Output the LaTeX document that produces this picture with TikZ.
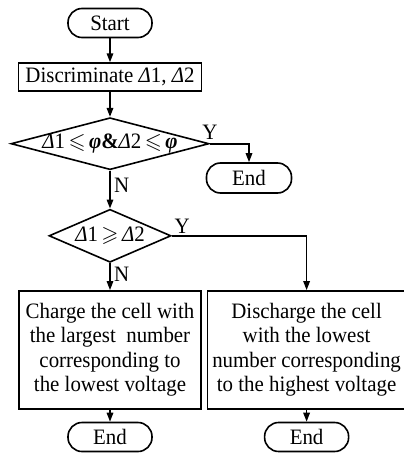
\documentclass[tikz,border=0pt]{standalone}
\usepackage{amssymb}
\usepackage{fontspec}
\setmainfont{Liberation Serif}[FakeStretch=0.95]
\usepackage{tikz}
\usetikzlibrary{arrows.meta,positioning,shapes.geometric}

\newcommand{\dl}{{\itshape Δ}}
\newcommand{\ph}{{\bfseries\itshape φ}}

\begin{document}
\begin{tikzpicture}[x=1pt, y=1pt,
  font=\fontsize{22}{24.5}\selectfont,
  line width=1.6pt,
  term/.style={draw, rounded corners=14pt, minimum width=84pt, minimum height=29pt, inner sep=0pt},
  box/.style={draw, minimum width=183pt, minimum height=28pt, inner sep=0pt, align=center},
  cond/.style={draw, diamond, inner sep=0pt},
  arr/.style={-{Triangle[length=9pt, width=6.5pt]}}]
\useasboundingbox (0,0) rectangle (404,-455);
\node[term] (start) at (110,-23) {Start};
\node[box, below=24pt of start] (disc) {Discriminate \dl1, \dl2};
\node[cond, minimum width=198pt, minimum height=52pt, below=25pt of disc,
  label={center:\dl1$\,\leqslant\,$\ph\textbf{\&}\dl2$\,\leqslant\,$\ph}] (d1) {};
\node[term, minimum width=85pt, minimum height=30pt] (end1) at (249,-178) {End};
\node[cond, minimum width=122pt, minimum height=53pt, below=38pt of d1,
  label={center:\dl1$\,\geqslant\,$\dl2}] (d2) {};
\node[box, minimum width=182pt, minimum height=118pt, below=27pt of d2] (chg)
  {Charge the cell with\\the largest\ \ number\\corresponding to\\the lowest voltage};
\node[box, minimum width=198pt, minimum height=118pt, right=5pt of chg] (dis)
  {Discharge the cell\\with the lowest\\number corresponding\\to the highest voltage};
\node[term, below=12pt of chg] (end2) {End};
\node[term, below=12pt of dis] (end3) {End};
\foreach \a/\b in {start/disc, disc/d1, chg/end2, dis/end3} \draw[arr] (\a) -- (\b);
\draw[arr] (d1.east) node[above]{Y} -| (end1.north);
\draw[arr] (d1.south) -- node[pos=0.4, right]{N} (d2.north);
\draw[arr] (d2.east) node[above right, inner sep=2pt]{Y} -| (dis.north);
\draw[arr] (d2.south) -- node[pos=0.4, right]{N} (chg.north);
\end{tikzpicture}
\end{document}
